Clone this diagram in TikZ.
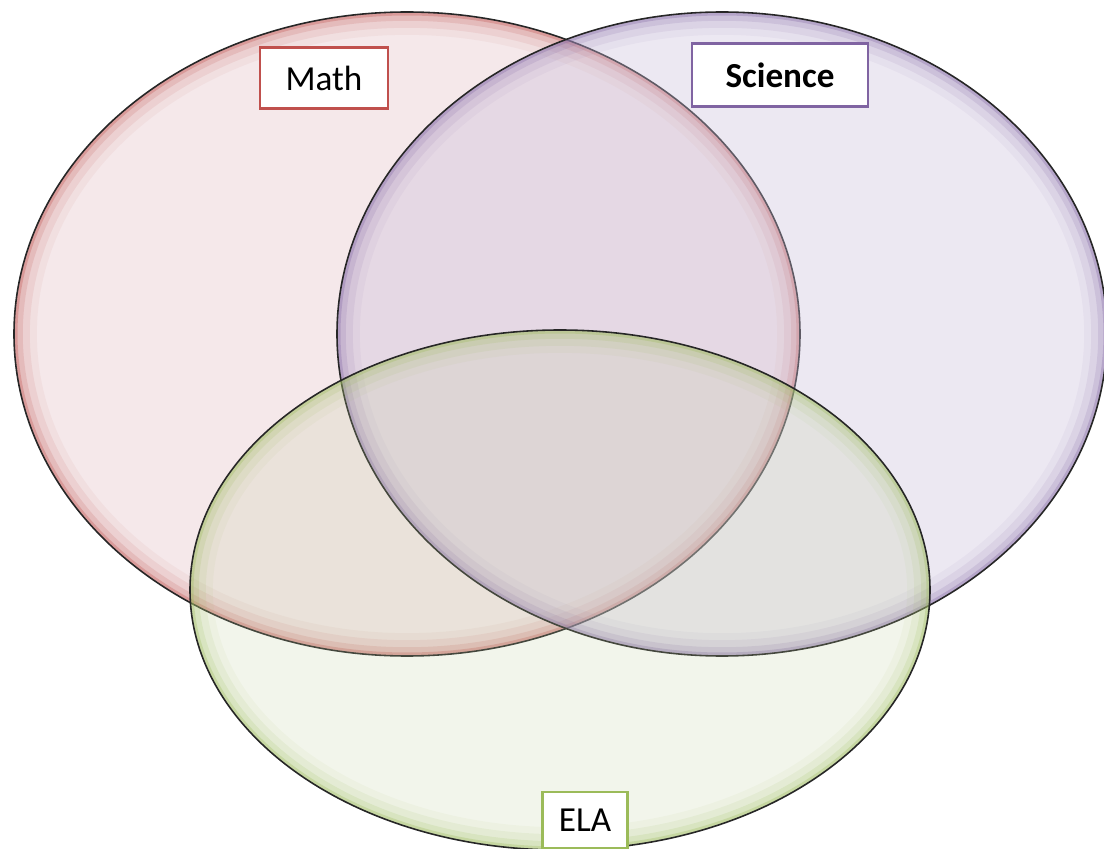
\documentclass[tikz,border=0pt]{standalone}
\usepackage{fontspec}
\usepackage{xcolor}
\usepackage{tikz}
\usetikzlibrary{positioning}
\newfontfamily\calfont{Carlito}
\definecolor{mathred}{RGB}{192,80,77}
\definecolor{scipurple}{RGB}{128,100,162}
\definecolor{elagreen}{RGB}{155,187,89}
\definecolor{mathfill}{RGB}{245,232,234}
\definecolor{scifill}{RGB}{201,189,218}
\definecolor{elafill}{RGB}{190,205,155}
% one set of the diagram: centre, x radius, y radius, fill, edge colour, fill opacity
\newcommand{\vennset}[6]{%
  \fill[#4, fill opacity=#6] #1 ellipse [x radius=#2, y radius=#3];
  \begin{scope}
    \clip #1 ellipse [x radius=#2, y radius=#3];
    \foreach \w/\o in {26/0.06, 18/0.1, 10/0.16, 4/0.3}
      \draw[#5, line width=\w pt, opacity=\o] #1 ellipse [x radius=#2, y radius=#3];
  \end{scope}
  \draw[black!85, line width=0.9pt] #1 ellipse [x radius=#2, y radius=#3];
}

\begin{document}
\begin{tikzpicture}[
    tagbox/.style={rectangle, fill=white, line width=1.3pt, inner sep=0pt,
                   align=center, font=\calfont\fontsize{20}{24}\selectfont}
]
\useasboundingbox (0,0) rectangle (22.08,-16.98);
\clip (0,0) rectangle (22.08,-16.98);

% the three sets
\vennset{(8.14,-6.68)}{7.86cm}{6.44cm}{mathfill}{mathred}{1}
\vennset{(14.44,-6.68)}{7.70cm}{6.44cm}{scifill}{scipurple}{0.35}
\vennset{(11.2,-11.8)}{7.4cm}{5.2cm}{elafill}{elagreen}{0.2}

% labels
\node[tagbox, draw=mathred, minimum width=2.56cm, minimum height=1.22cm] (math) at (6.48,-1.56) {Math};
\node[tagbox, draw=scipurple, minimum width=3.52cm, minimum height=1.26cm,
      font=\calfont\bfseries\fontsize{20}{24}\selectfont] (science) at (15.6,-1.5) {Science};
\node[tagbox, draw=elagreen, minimum width=1.7cm, minimum height=1.12cm] (ela) at (11.7,-16.4) {ELA};
\end{tikzpicture}
\end{document}
